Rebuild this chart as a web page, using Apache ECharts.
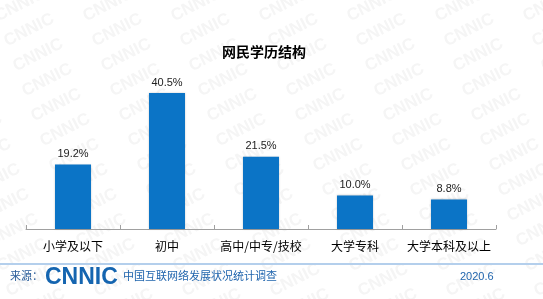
<!DOCTYPE html>
<html>
<head>
<meta charset="utf-8">
<script src="https://cdn.jsdelivr.net/npm/echarts@6/dist/echarts.min.js"></script>
<style>
  html, body { margin: 0; padding: 0; background: #fff; }
  #chart { width: 543px; height: 299px; }
</style>
</head>
<body>
<div id="chart"></div>
<script>
// 学历分类
const categories = ['小学及以下', '初中', '高中/中专/技校', '大学专科', '大学本科及以上'];
// 占比（%）
const shares = [19.2, 40.5, 21.5, 10.0, 8.8];

const titleText = '网民学历结构';
const sourceText = '中国互联网络发展状况统计调查';
const dateText = '2020.6';

// 背景水印（斜排的 CNNIC）
const makeWatermark = () => {
  const c = document.createElement('canvas');
  c.width = 543;
  c.height = 299;
  const ctx = c.getContext('2d');
  ctx.fillStyle = '#fff';
  ctx.fillRect(0, 0, c.width, c.height);
  ctx.fillStyle = '#f5f5f5';
  ctx.font = 'bold 17px "Liberation Sans", Arial';
  ctx.textAlign = 'center';
  ctx.textBaseline = 'middle';
  for (let row = -2; row < 14; row++) {
    for (let col = -2; col < 8; col++) {
      const x = col * 88 + row * 9 + 20;
      const y = row * 25 + 5;
      ctx.save();
      ctx.translate(x, y);
      ctx.rotate(-27 * Math.PI / 180);
      ctx.fillText('CNNIC', 0, 0);
      ctx.restore();
    }
  }
  return c;
};

const chart = echarts.init(document.getElementById('chart'));

const option = {
  backgroundColor: { image: makeWatermark(), repeat: 'no-repeat' },
  animation: false,
  title: {
    text: titleText,
    left: 259,
    textAlign: 'center',
    top: 40,
    textStyle: {
      fontFamily: '"Noto Sans CJK SC"',
      fontSize: 14,
      fontWeight: 'bold',
      color: '#000'
    }
  },
  grid: {
    left: 26,
    right: 47,
    top: 78,
    bottom: 70
  },
  xAxis: {
    type: 'category',
    data: categories,
    axisLine: { lineStyle: { color: '#a0a0a0', width: 1 } },
    axisTick: { show: true, inside: true, length: 4, lineStyle: { color: '#a0a0a0' } },
    axisLabel: {
      interval: 0,
      margin: 11,
      fontSize: 12,
      color: '#000',
      fontFamily: '"Noto Sans CJK SC"'
    }
  },
  yAxis: {
    type: 'value',
    min: 0,
    max: 45,
    show: false
  },
  series: [
    {
      type: 'bar',
      data: shares,
      barWidth: 36,
      itemStyle: {
        color: '#0b74c6',
        shadowColor: 'rgba(0, 0, 0, 0.2)',
        shadowBlur: 2
      },
      label: {
        show: true,
        position: 'top',
        distance: 5,
        fontSize: 11,
        color: '#222',
        fontFamily: '"Liberation Sans", Arial',
        formatter: (p) => p.value.toFixed(1) + '%'
      }
    }
  ],
  graphic: [
    {
      type: 'rect',
      left: 0,
      top: 263,
      shape: { width: 543, height: 2 },
      style: { fill: '#b4cfec' }
    },
    {
      type: 'text',
      left: 10,
      top: 270,
      style: {
        text: '来源：',
        fontSize: 11,
        fill: '#2a5d9a',
        fontFamily: '"Noto Sans CJK SC"'
      }
    },
    {
      type: 'text',
      left: 45,
      top: 266,
      style: {
        text: 'CNNIC',
        fontSize: 23,
        fontWeight: 900,
        fill: '#1565b0',
        fontFamily: '"Liberation Sans", Arial'
      }
    },
    {
      type: 'text',
      left: 123,
      top: 270,
      style: {
        text: sourceText,
        fontSize: 11,
        fill: '#1f64ad',
        fontFamily: '"Noto Sans CJK SC"'
      }
    },
    {
      type: 'text',
      left: 460,
      top: 271,
      style: {
        text: dateText,
        fontSize: 11,
        fill: '#1f64ad',
        fontFamily: '"Liberation Sans", Arial'
      }
    }
  ]
};

chart.setOption(option);
</script>
</body>
</html>
